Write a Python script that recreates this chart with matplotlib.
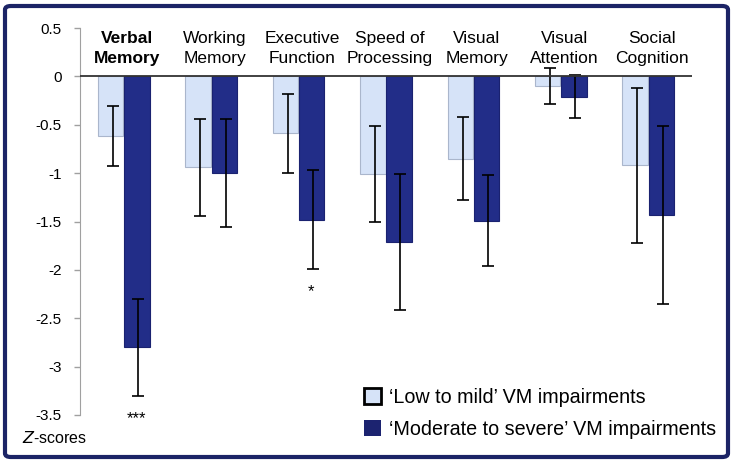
import matplotlib
matplotlib.use("Agg")
import matplotlib.pyplot as plt
import numpy as np
from matplotlib.patches import FancyBboxPatch, Patch

plt.rcParams["font.family"] = ["Liberation Sans", "DejaVu Sans"]

categories = ["Verbal\nMemory", "Working\nMemory", "Executive\nFunction", "Speed of\nProcessing",
              "Visual\nMemory", "Visual\nAttention", "Social\nCognition"]
low_mild = [-0.62, -0.94, -0.59, -1.01, -0.85, -0.10, -0.92]
low_mild_err = [0.31, 0.50, 0.41, 0.50, 0.43, 0.19, 0.80]
mod_severe = [-2.80, -1.00, -1.48, -1.71, -1.49, -0.21, -1.43]
mod_severe_err = [0.50, 0.56, 0.51, 0.70, 0.47, 0.22, 0.92]
significance = ["***", "", "*", "", "", "", ""]
yticks = [0.5, 0, -0.5, -1, -1.5, -2, -2.5, -3, -3.5]
legend_labels = ["\u2018Low to mild\u2019 VM impairments", "\u2018Moderate to severe\u2019 VM impairments"]

LIGHT = "#d6e3f8"
DARK = "#222d88"
NAVY = "#1c2466"

fig = plt.figure(figsize=(7.33, 4.62), dpi=100)
ax = fig.add_axes([80 / 733, 1 - 415 / 462, 612 / 733, 387 / 462])

x = np.arange(len(categories))
w = 0.29
ax.bar(x - w / 2 - 0.005, low_mild, w, color=LIGHT, edgecolor="#aab6cc", linewidth=0.8, zorder=2)
ax.bar(x + w / 2 + 0.005, mod_severe, w, color=DARK, edgecolor="#1a2270", linewidth=0.8, zorder=2)
ax.errorbar(x - w / 2 + 0.02, low_mild, yerr=low_mild_err, fmt="none", ecolor="black",
            elinewidth=1.2, capsize=4, capthick=1.2, zorder=3)
ax.errorbar(x + w / 2 + 0.02, mod_severe, yerr=mod_severe_err, fmt="none", ecolor="black",
            elinewidth=1.2, capsize=4, capthick=1.2, zorder=3)

ax.axhline(0, color="#333333", linewidth=1.3, zorder=4)

# category names sit inside the axes, above the zero line
for i, lab in enumerate(categories):
    ax.text(i + 0.04, 0.29, lab, ha="center", va="center", fontsize=12.5, linespacing=1.4,
            fontweight="bold" if i == 0 else "normal")

for i, s in enumerate(significance):
    if s:
        ax.text(x[i] + w / 2, mod_severe[i] - mod_severe_err[i] - 0.16, s,
                ha="center", va="top", fontsize=12, clip_on=False)

ax.set_xlim(-0.5, len(categories) - 0.5)
ax.set_ylim(-3.5, 0.5)
ax.set_yticks(yticks)
ax.set_yticklabels([f"{t:g}" for t in yticks], fontsize=11)
ax.set_xticks([])
for side in ["top", "right", "bottom"]:
    ax.spines[side].set_visible(False)
ax.spines["left"].set_color("#a0a0a0")
ax.tick_params(axis="y", colors="#a0a0a0", labelcolor="black", length=4, width=1, pad=9)

handles = [Patch(facecolor=LIGHT, edgecolor="black", linewidth=2),
           Patch(facecolor="#1c2370", edgecolor="#1c2370", linewidth=0)]
fig.legend(handles, legend_labels, loc="upper left", bbox_to_anchor=(346 / 733, 1 - 370 / 462),
           frameon=False, fontsize=14.2, handlelength=0.85, handleheight=0.85,
           handletextpad=0.45, labelspacing=0.68)

fig.text(55 / 733, 1 - 438 / 462, "$\\mathit{Z}$-scores", ha="center", va="center", fontsize=11.5)

border = FancyBboxPatch((5 / 733, 5 / 462), 723 / 733, 451 / 462,
                        boxstyle="round,pad=0,rounding_size=0.008", transform=fig.transFigure,
                        facecolor="none", edgecolor=NAVY, linewidth=3)
fig.patches.append(border)

fig.savefig("out.png", dpi=100)
